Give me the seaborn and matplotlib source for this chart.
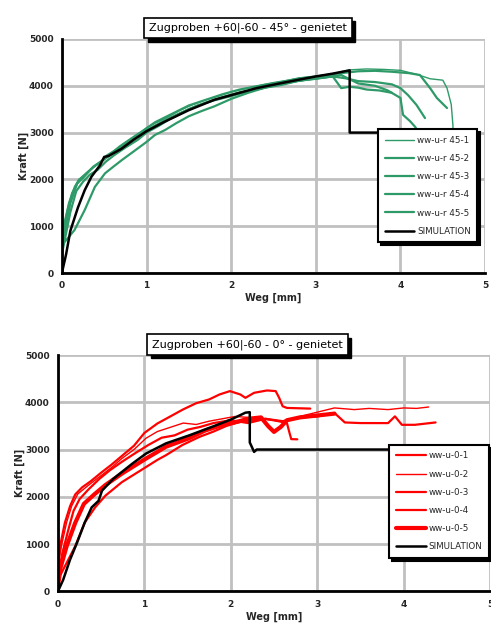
import numpy as np
import pandas as pd
import matplotlib
matplotlib.use("Agg")
import matplotlib.pyplot as plt
from matplotlib.patches import Rectangle
import seaborn as sns

# ---- 45 deg specimens ----
g1_x = [0, 0.03, 0.08, 0.15, 0.2, 0.28, 0.37, 0.45, 0.53, 0.62, 0.73, 0.85, 1.0, 1.1, 1.25, 1.4, 1.55, 1.7,
        1.85, 2.0, 2.2, 2.4, 2.6, 2.8, 3.0, 3.2, 3.4, 3.6, 3.8, 4.0, 4.2, 4.35, 4.5, 4.55, 4.6, 4.62, 4.62]
g1_y = [700, 1100, 1500, 1850, 2000, 2120, 2270, 2350, 2520, 2620, 2760, 2900, 3100, 3200, 3330, 3480, 3600, 3700,
        3780, 3870, 3950, 4030, 4090, 4170, 4200, 4260, 4340, 4360, 4350, 4330, 4240, 4150, 4120, 3950, 3600, 3150, 2950]
g2_x = [0, 0.04, 0.1, 0.18, 0.26, 0.37, 0.46, 0.55, 0.68, 0.8, 0.95, 1.1, 1.3, 1.5, 1.7, 1.9, 2.1, 2.3, 2.5,
        2.7, 2.9, 3.1, 3.3, 3.5, 3.7, 3.9, 4.1, 4.23, 4.35, 4.43, 4.55]
g2_y = [500, 920, 1490, 1910, 2050, 2270, 2380, 2500, 2700, 2850, 3030, 3220, 3400, 3580, 3700, 3820, 3920, 3990, 4060,
        4120, 4180, 4220, 4270, 4310, 4320, 4300, 4270, 4230, 3950, 3740, 3525]
g3_x = [0, 0.03, 0.07, 0.12, 0.2, 0.3, 0.4, 0.5, 0.6, 0.75, 0.9, 1.05, 1.2, 1.4, 1.6, 1.8, 2.0, 2.2, 2.4, 2.6,
        2.8, 3.0, 3.2, 3.35, 3.5, 3.7, 3.9, 4.0, 4.09, 4.19, 4.29]
g3_y = [600, 1000, 1350, 1700, 1980, 2150, 2300, 2430, 2560, 2750, 2950, 3100, 3250, 3420, 3580, 3690, 3780, 3880, 3960,
        4040, 4110, 4150, 4200, 4160, 4100, 4080, 4030, 3950, 3800, 3590, 3310]
g4_x = [0, 0.05, 0.1, 0.17, 0.25, 0.33, 0.42, 0.52, 0.62, 0.75, 0.9, 1.0, 1.15, 1.3, 1.5, 1.7, 1.9, 2.1, 2.3,
        2.5, 2.7, 2.9, 3.1, 3.3, 3.5, 3.7, 3.85, 4.0, 4.03, 4.11, 4.17, 4.22]
g4_y = [400, 850, 1300, 1750, 1950, 2100, 2200, 2380, 2520, 2680, 2850, 3000, 3150, 3320, 3500, 3640, 3760, 3860, 3920,
        4020, 4080, 4130, 4180, 4230, 4050, 4000, 3900, 3740, 3380, 3250, 3130, 3000]
g5_x = [0, 0.05, 0.15, 0.27, 0.39, 0.51, 0.6, 0.71, 0.85, 1.0, 1.1, 1.22, 1.35, 1.5, 1.65, 1.8, 2.0, 2.2, 2.4,
        2.6, 2.8, 3.0, 3.2, 3.3, 3.4, 3.5, 3.6, 3.75, 3.9]
g5_y = [600, 700, 920, 1346, 1840, 2130, 2260, 2415, 2600, 2800, 2950, 3056, 3200, 3350, 3460, 3560, 3720, 3850, 3960,
        4020, 4110, 4160, 4200, 3950, 3980, 3960, 3920, 3900, 3850]
sim45_x = [0, 0.05, 0.1, 0.19, 0.27, 0.35, 0.45, 0.5, 0.55, 0.7, 0.85, 1.0, 1.2, 1.5, 1.8, 2.0, 2.3, 2.6, 3.0,
           3.2, 3.4, 3.4, 3.42, 4.6]
sim45_y = [0, 400, 900, 1400, 1770, 2060, 2300, 2480, 2500, 2650, 2850, 3030, 3220, 3480, 3700, 3800, 3950, 4060, 4200,
           4260, 4330, 3000, 3000, 3000]

# ---- 0 deg specimens ----
r1_x = [0, 0.03, 0.08, 0.14, 0.2, 0.28, 0.38, 0.5, 0.62, 0.75, 0.88, 1.0, 1.15, 1.3, 1.45, 1.6, 1.75, 1.87,
        1.99, 2.11, 2.17, 2.27, 2.42, 2.52, 2.56, 2.6, 2.65, 2.92]
r1_y = [600, 1000, 1450, 1800, 2050, 2200, 2330, 2510, 2680, 2880, 3080, 3350, 3550, 3700, 3850, 3980, 4060, 4165,
        4236, 4165, 4094, 4200, 4250, 4236, 4094, 3916, 3880, 3866]
r2_x = [0, 0.04, 0.1, 0.16, 0.23, 0.35, 0.5, 0.62, 0.74, 0.88, 1.02, 1.15, 1.3, 1.45, 1.6, 1.75, 1.9, 2.05, 2.2,
        2.4, 2.6, 2.8, 3.04, 3.2, 3.43, 3.6, 3.82, 4.0, 4.15, 4.29]
r2_y = [500, 955, 1455, 1810, 2060, 2240, 2450, 2620, 2810, 3000, 3240, 3380, 3470, 3560, 3530, 3600, 3650, 3700, 3680,
        3640, 3600, 3700, 3808, 3880, 3845, 3870, 3845, 3880, 3870, 3900]
r3_x = [0, 0.05, 0.12, 0.18, 0.25, 0.35, 0.48, 0.6, 0.74, 0.9, 1.05, 1.2, 1.35, 1.5, 1.65, 1.8, 2.0, 2.2, 2.4,
        2.6, 2.8, 3.0, 3.2, 3.32, 3.5, 3.82, 3.9, 3.98, 4.13, 4.37]
r3_y = [300, 800, 1300, 1700, 1950, 2150, 2380, 2560, 2740, 2930, 3100, 3250, 3300, 3420, 3480, 3560, 3620, 3560, 3650,
        3600, 3680, 3700, 3773, 3573, 3560, 3559, 3702, 3523, 3523, 3573]
r4_x = [0, 0.02, 0.12, 0.2, 0.31, 0.43, 0.55, 0.74, 0.88, 1.02, 1.15, 1.25, 1.44, 1.64, 1.8, 1.95, 2.1, 2.25,
        2.4, 2.55, 2.65, 2.68, 2.7, 2.77]
r4_y = [200, 315, 670, 955, 1455, 1775, 2025, 2310, 2470, 2630, 2780, 2880, 3095, 3270, 3380, 3500, 3580, 3620,
        3650, 3600, 3560, 3350, 3220, 3216]
r5_x = [0, 0.03, 0.1, 0.2, 0.3, 0.42, 0.55, 0.74, 0.88, 1.02, 1.15, 1.25, 1.4, 1.52, 1.7, 1.87, 2.0, 2.1, 2.2,
        2.35, 2.43, 2.5, 2.58, 2.65, 2.8, 3.0, 3.2]
r5_y = [100, 500, 950, 1450, 1850, 2050, 2250, 2490, 2650, 2810, 2950, 3060, 3160, 3240, 3400, 3500, 3560, 3600, 3650,
        3680, 3500, 3373, 3480, 3620, 3680, 3720, 3760]
sim0_x = [0, 0.06, 0.14, 0.22, 0.31, 0.39, 0.47, 0.51, 0.64, 0.86, 1.02, 1.25, 1.52, 1.8, 2.0, 2.17, 2.22,
          2.22, 2.27, 2.3, 4.5]
sim0_y = [0, 241, 670, 1024, 1455, 1775, 1915, 2130, 2380, 2700, 2915, 3130, 3300, 3492, 3633, 3780, 3790,
          3150, 2950, 3000, 3000]

labels45 = ["ww-u-r 45-1", "ww-u-r 45-2", "ww-u-r 45-3", "ww-u-r 45-4", "ww-u-r 45-5", "SIMULATION"]
labels0 = ["ww-u-0-1", "ww-u-0-2", "ww-u-0-3", "ww-u-0-4", "ww-u-0-5", "SIMULATION"]

sns.set_style("white")
green = "#2e9a68"
red = "#ff0000"

fig = plt.figure(figsize=(4.91, 6.37), dpi=100)
ax1 = fig.add_axes([0.126, 0.5714, 0.862, 0.3674])
ax2 = fig.add_axes([0.118, 0.0717, 0.880, 0.3710])


def draw(ax, curves, sim, labels, color, widths):
    for (xs, ys), lab, lw in zip(curves, labels, widths):
        sns.lineplot(x=xs, y=ys, sort=False, estimator=None, ax=ax, color=color, lw=lw, label=lab)
    sns.lineplot(x=sim[0], y=sim[1], sort=False, estimator=None, ax=ax, color="black", lw=1.8, label=labels[-1])
    ax.set_xlim(0, 5)
    ax.set_ylim(0, 5000)
    ax.set_xticks([0, 1, 2, 3, 4, 5])
    ax.set_yticks([0, 1000, 2000, 3000, 4000, 5000])
    ax.grid(True, color="#c0c0c0", lw=2)
    ax.set_axisbelow(True)
    for s in ["top", "right"]:
        ax.spines[s].set_visible(False)
    for s in ["left", "bottom"]:
        ax.spines[s].set_color("black")
        ax.spines[s].set_linewidth(2)
    ax.tick_params(length=0, labelsize=6.5, pad=6)
    for t in ax.get_xticklabels() + ax.get_yticklabels():
        t.set_fontweight("bold")
    ax.set_xlabel("Weg [mm]", fontsize=7, fontweight="bold", labelpad=2)
    ax.set_ylabel("Kraft [N]", fontsize=7, fontweight="bold", labelpad=0)


draw(ax1, [(g1_x, g1_y), (g2_x, g2_y), (g3_x, g3_y), (g4_x, g4_y), (g5_x, g5_y)],
     (sim45_x, sim45_y), labels45, green, [1.0, 1.6, 1.6, 1.6, 1.6])
draw(ax2, [(r1_x, r1_y), (r2_x, r2_y), (r3_x, r3_y), (r4_x, r4_y), (r5_x, r5_y)],
     (sim0_x, sim0_y), labels0, red, [1.6, 1.0, 1.6, 1.6, 3.0])

for ax, anchor in [(ax1, (0.737, 0.633)), (ax2, (0.757, 0.638))]:
    leg = ax.legend(loc="upper left", bbox_to_anchor=anchor, fontsize=6.3, frameon=True, fancybox=False,
                    handlelength=3.4, handletextpad=0.3, labelspacing=1.05, borderpad=0.75,
                    shadow={"color": "black", "alpha": 1})
    leg.get_frame().set_edgecolor("black")
    leg.get_frame().set_linewidth(1.5)
    leg.get_frame().set_facecolor("white")

titles = [("Zugproben +60|-60 - 45° - genietet", 0.505, 0.956),
          ("Zugproben +60|-60 - 0° - genietet", 0.504, 0.459)]
title_texts = []
for txt, tx, ty in titles:
    t = fig.text(tx, ty, txt, ha="center", va="center", fontsize=8, color="black", zorder=5,
                 bbox=dict(boxstyle="square,pad=0.45", fc="white", ec="black", lw=1.2))
    title_texts.append(t)

# black drop shadow behind the title boxes
fig.canvas.draw()
for t in title_texts:
    bb = t.get_bbox_patch().get_window_extent()
    fig.patches.append(Rectangle((bb.x0 + 3.5, bb.y0 - 3.5), bb.width, bb.height, transform=None,
                                 fc="black", ec="black", zorder=4))

fig.savefig("out.png", dpi=100)
